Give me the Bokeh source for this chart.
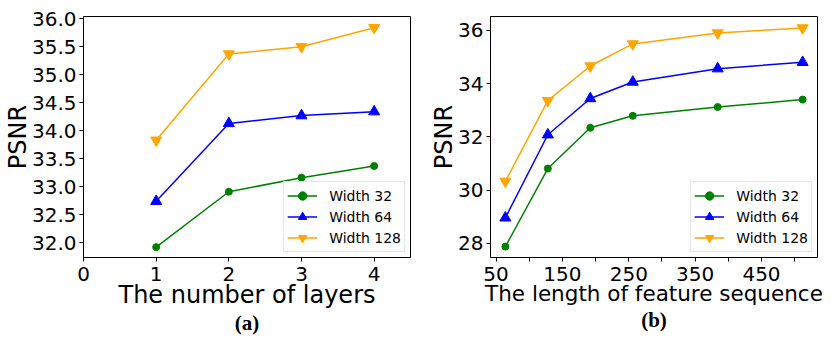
from bokeh.plotting import figure
from bokeh.models import Range1d, FixedTicker, LinearAxis, Legend, LegendItem
from bokeh.layouts import row
from bokeh.embed import file_html
from bokeh.resources import INLINE

# ---- data: panel (a) ----
layers = [1, 2, 3, 4]
a_width32 = [31.92, 32.91, 33.16, 33.37]
a_width64 = [32.74, 34.13, 34.27, 34.34]
a_width128 = [33.83, 35.37, 35.50, 35.84]
a_yticks = [32.0, 32.5, 33.0, 33.5, 34.0, 34.5, 35.0, 35.5, 36.0]
a_xticks = [0, 1, 2, 3, 4]

# ---- data: panel (b) ----
seq_len = [64, 128, 192, 256, 384, 512]
b_width32 = [27.88, 30.81, 32.34, 32.79, 33.12, 33.40]
b_width64 = [28.96, 32.08, 33.44, 34.06, 34.56, 34.80]
b_width128 = [30.33, 33.36, 34.66, 35.49, 35.90, 36.09]
b_yticks = [28, 30, 32, 34, 36]
b_xticks = [50, 100, 150, 200, 250, 300, 350, 400, 450, 500]
b_xlabels = {50: "50", 100: "", 150: "150", 200: "", 250: "250",
             300: "", 350: "350", 400: "", 450: "450", 500: ""}

series_names = ["Width 32", "Width 64", "Width 128"]
colors = ["#008000", "#0000ff", "#ffa500"]
markers = ["circle", "triangle", "inverted_triangle"]
msizes = [7, 11, 11]

FONT = "DejaVu Sans"
FRAME_H = 241
FRAME_W = 327
TOP = 16
BOTTOM = 75


def make_panel(bl, br, xr, yr, xticks, yticks, xlabel, caption, xs, ys_list,
               ylabel_fmt=None, xlabel_over=None, xlabel_size="24px"):
    p = figure(frame_width=FRAME_W, frame_height=FRAME_H,
               x_range=Range1d(*xr), y_range=Range1d(*yr),
               output_backend="svg", toolbar_location=None,
               min_border_left=bl, min_border_right=br, min_border_top=TOP,
               min_border_bottom=BOTTOM)
    p.xgrid.visible = False
    p.ygrid.visible = False
    p.outline_line_color = "black"
    p.outline_line_width = 1
    p.background_fill_color = "white"
    p.border_fill_color = "white"

    xa = p.xaxis[0]
    ya = p.yaxis[0]
    xa.ticker = FixedTicker(ticks=xticks)
    ya.ticker = FixedTicker(ticks=yticks)
    if ylabel_fmt:
        ya.major_label_overrides = ylabel_fmt
    if xlabel_over:
        xa.major_label_overrides = xlabel_over
    for ax in (xa, ya):
        ax.axis_line_color = "black"
        ax.major_tick_line_color = "black"
        ax.major_tick_in = 0
        ax.major_tick_out = 4
        ax.minor_tick_line_color = None
        ax.major_label_text_font = FONT
        ax.major_label_text_font_size = "20px"
        ax.major_label_text_color = "black"
        ax.axis_label_text_font = FONT
        ax.axis_label_text_font_size = "24px"
        ax.axis_label_text_font_style = "normal"
        ax.axis_label_text_color = "black"
    ya.major_label_standoff = 3
    ya.axis_label_standoff = -3
    xa.major_label_standoff = 5
    xa.axis_label_standoff = -3
    xa.axis_label_text_font_size = xlabel_size
    xa.axis_label = xlabel
    ya.axis_label = "PSNR"

    items = []
    for name, ys, c, m, s in zip(series_names, ys_list, colors, markers, msizes):
        r1 = p.line(xs, ys, line_color=c, line_width=1.5)
        r2 = p.scatter(xs, ys, marker=m, size=s, fill_color=c, line_color=c)
        items.append(LegendItem(label=name, renderers=[r1, r2]))
    leg = Legend(items=items, location="bottom_right")
    leg.label_text_font = FONT
    leg.label_text_font_size = "14px"
    leg.label_text_color = "black"
    leg.glyph_width = 30
    leg.glyph_height = 21
    leg.label_height = 21
    leg.spacing = 0
    leg.padding = 3
    leg.margin = 5
    leg.label_standoff = 12
    leg.border_line_color = "#cccccc"
    leg.border_line_width = 1
    leg.background_fill_alpha = 0.9
    p.add_layout(leg, "center")

    # caption "(a)" / "(b)" as a tick-less extra axis below
    cap = LinearAxis(ticker=FixedTicker(ticks=[]), axis_label=caption,
                     axis_line_color=None, major_tick_line_color=None,
                     minor_tick_line_color=None,
                     axis_label_text_font="Liberation Serif",
                     axis_label_text_font_style="bold",
                     axis_label_text_font_size="21px",
                     axis_label_text_color="black",
                     axis_label_standoff=-1, major_label_standoff=0,
                     major_tick_out=0, major_tick_in=0)
    p.add_layout(cap, "below")
    return p


p1 = make_panel(76, 2, (0, 4.5), (31.735, 36.04), a_xticks, a_yticks,
                "The number of layers", "(a)", layers,
                [a_width32, a_width64, a_width128],
                ylabel_fmt={v: f"{v:.1f}" for v in a_yticks})
p2 = make_panel(78, 5, (41.6, 534.4), (27.47, 36.52), b_xticks, b_yticks,
                "The length of feature sequence", "(b)", seq_len,
                [b_width32, b_width64, b_width128], xlabel_over=b_xlabels,
                xlabel_size="21.5px")

layout = row(p1, p2)
open("out.html", "w").write(file_html(layout, INLINE))
